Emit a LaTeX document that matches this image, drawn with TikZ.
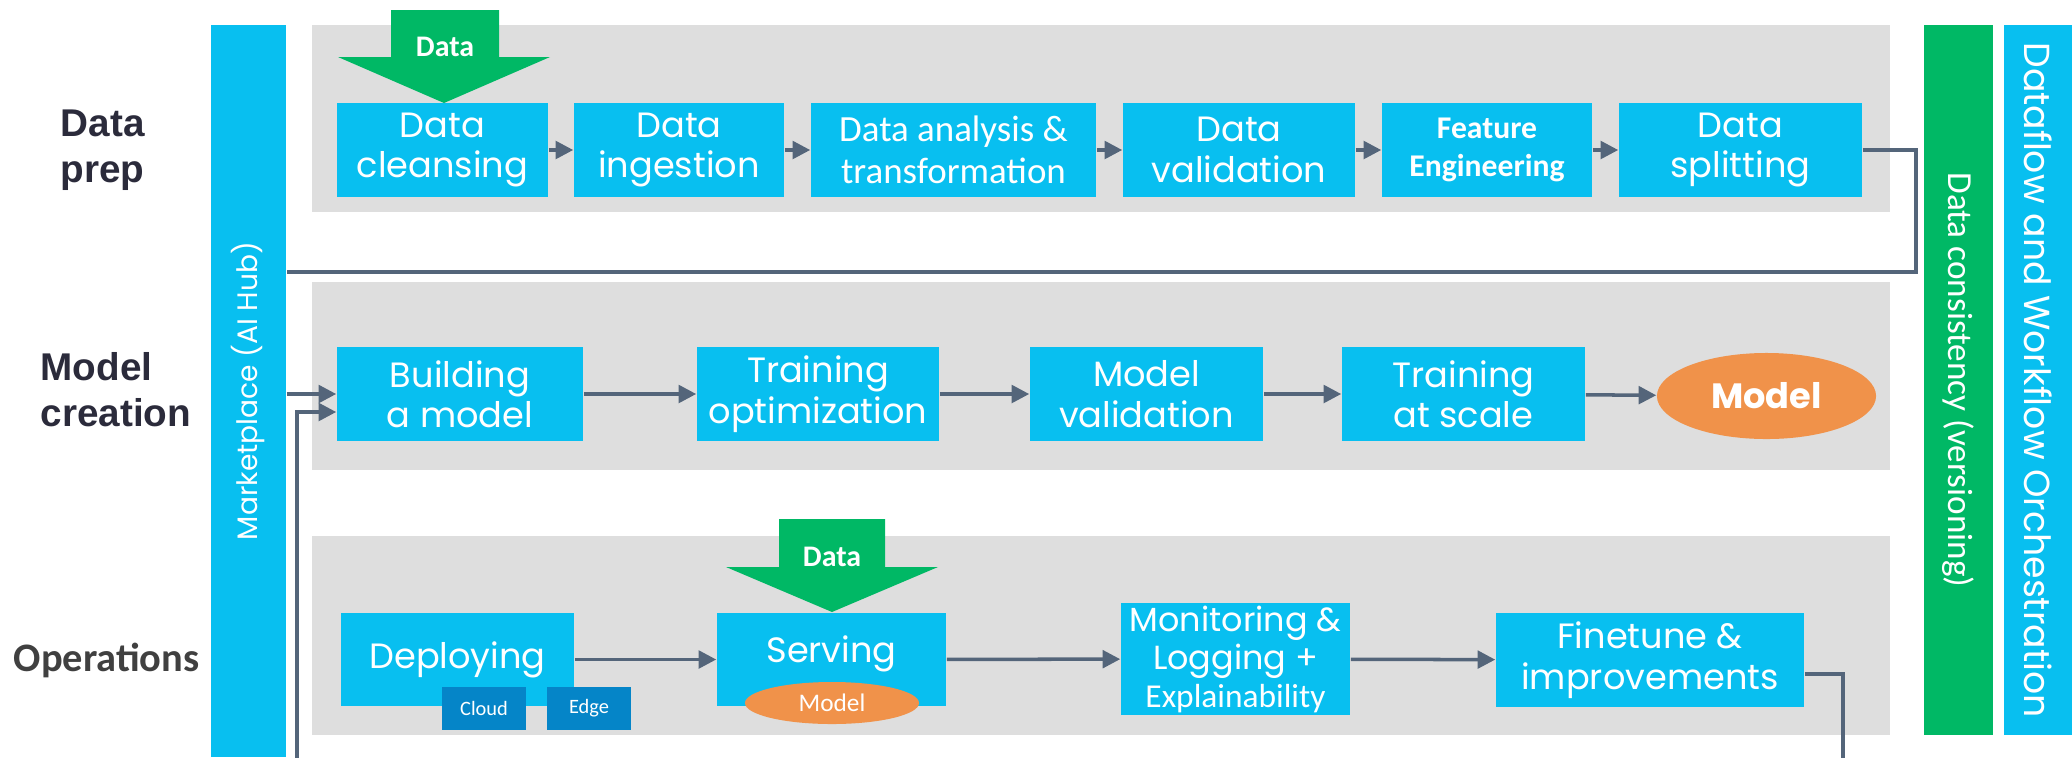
\documentclass[tikz,border=0pt]{standalone}
\usepackage{fontspec}
\setmainfont{Poppins}
\newfontfamily\calfont{Carlito}
\newfontfamily\arialfont{Liberation Sans}
\usetikzlibrary{arrows.meta,calc,shapes.geometric}
\definecolor{boxblue}{RGB}{8,191,240}
\definecolor{panelgray}{RGB}{222,222,222}
\definecolor{datagreen}{RGB}{0,184,101}
\definecolor{modelorange}{RGB}{240,146,74}
\definecolor{deepblue}{RGB}{5,133,200}
\definecolor{arrowgray}{RGB}{84,101,122}
\definecolor{labelink}{RGB}{43,43,59}
\tikzset{
  stepbox/.style={fill=boxblue, text=white, inner sep=0pt, align=center, font=\fontsize{10}{11.5}\selectfont},
  subbox/.style={fill=deepblue, text=white, inner sep=0pt, font=\calfont\fontsize{5.8}{6}\selectfont},
  modelblob/.style={ellipse, fill=modelorange, text=white, inner sep=0pt},
  sidebar/.style={inner sep=0pt, text=white},
  rowlabel/.style={anchor=west, align=left, inner sep=0pt, text=labelink, font=\arialfont\bfseries\fontsize{11}{13}\selectfont},
  flow/.style={draw=arrowgray, line width=1pt, -{Triangle[length=5pt,width=5pt]}},
  loopline/.style={draw=arrowgray, line width=1pt}
}

\begin{document}
\begin{tikzpicture}[x=0.01cm, y=-0.01cm]
		%%%%% START %%%%%
		\useasboundingbox (0,0) rectangle (2072,757);
		
		\fill[panelgray] (312,25) rectangle (1890,212);
		\fill[panelgray] (312,282) rectangle (1890,470);
		\fill[panelgray] (312,536) rectangle (1890,735);
		
		\node[rowlabel] (lprep) at (60,150) {Data\\prep};
		\node[rowlabel] (lcreate) at (40,390) {Model\\creation};
		\node[rowlabel, text=black!75, font=\calfont\bfseries\fontsize{11.5}{13}\selectfont] (lops) at (13,660) {Operations};
		
		\node[sidebar, fill=boxblue, minimum width=0.75cm, minimum height=7.32cm] (market) at (248.5,391) {\rotatebox{90}{\fontsize{8}{9}\selectfont Marketplace (AI Hub)}};
		\node[sidebar, fill=datagreen, minimum width=0.69cm, minimum height=7.10cm] (consist) at (1958.5,380) {\rotatebox{-90}{\calfont\fontsize{10}{11}\selectfont Data consistency (versioning)}};
		\node[sidebar, fill=boxblue, minimum width=0.68cm, minimum height=7.10cm] (orch) at (2038,380) {\rotatebox{-90}{\fontsize{10.3}{11}\selectfont Dataflow and Workflow Orchestration}};
		
		% data prep
		\node[stepbox, minimum width=2.11cm, minimum height=0.94cm] (clean) at (442.5,150) {Data\\cleansing};
		\node[stepbox, minimum width=2.10cm, minimum height=0.94cm] (ingest) at (679,150) {Data\\ingestion};
		\node[stepbox, minimum width=2.85cm, minimum height=0.94cm, font=\calfont\fontsize{10.5}{12}\selectfont] (analysis) at (953.5,150) {Data analysis \&\\transformation};
		\node[stepbox, minimum width=2.32cm, minimum height=0.94cm] (valid) at (1239,150) {Data\\validation};
		\node[stepbox, minimum width=2.10cm, minimum height=0.94cm, font=\calfont\bfseries\fontsize{9}{11}\selectfont] (feature) at (1487,150) {Feature\\Engineering};
		\node[stepbox, minimum width=2.43cm, minimum height=0.94cm] (split) at (1740.5,150) {Data\\splitting};
		
		\fill[datagreen] (391,10) -- (499,10) -- (499,57) -- (550,57) -- (444,103) -- (338,57) -- (391,57) -- cycle;
		\node[text=white, font=\calfont\bfseries\fontsize{8.5}{9}\selectfont] (datain) at (445,47) {Data};
		
		\draw[flow] (clean) -- (ingest);
		\draw[flow] (ingest) -- (analysis);
		\draw[flow] (analysis) -- (valid);
		\draw[flow] (valid) -- (feature);
		\draw[flow] (feature) -- (split);
		
		% model creation
		\node[stepbox, minimum width=2.46cm, minimum height=0.94cm] (build) at (460,394) {Building\\a model};
		\node[stepbox, minimum width=2.42cm, minimum height=0.94cm] (trainopt) at (818,394) {Training\\optimization};
		\node[stepbox, minimum width=2.33cm, minimum height=0.94cm] (modelval) at (1146.5,394) {Model\\validation};
		\node[stepbox, minimum width=2.43cm, minimum height=0.94cm] (scale) at (1463.5,394) {Training\\at scale};
		\node[modelblob, minimum width=2.19cm, minimum height=0.86cm, font=\bfseries\fontsize{10}{11}\selectfont] (modelout) at (1766.5,396) {Model};
		
		\draw[flow] (build) -- (trainopt);
		\draw[flow] (trainopt) -- (modelval);
		\draw[flow] (modelval) -- (scale);
		\draw[flow] (scale) -- (modelout);
		
		% operations
		\node[stepbox, minimum width=2.33cm, minimum height=0.93cm] (deploy) at (457.5,659.5) {Deploying};
		\node[subbox, minimum width=0.84cm, minimum height=0.43cm] (cloud) at (484,708.5) {Cloud};
		\node[subbox, minimum width=0.84cm, minimum height=0.43cm] (edge) at (589,708.5) {Edge};
		\node[stepbox, minimum width=2.29cm, minimum height=0.93cm, text depth=6pt] (serve) at (831.5,659.5) {Serving};
		\node[modelblob, minimum width=1.74cm, minimum height=0.42cm, font=\calfont\fontsize{7.2}{8}\selectfont] (servemodel) at (832,703) {Model};
		\node[stepbox, minimum width=2.29cm, minimum height=1.12cm, font=\fontsize{9.5}{10.8}\selectfont] (monitor) at (1235.5,659) {Monitoring \&\\Logging +\\{\calfont\fontsize{9.5}{10.8}\selectfont Explainability}};
		\node[stepbox, minimum width=3.08cm, minimum height=0.94cm] (fine) at (1650,660) {Finetune \&\\improvements};
		
		\fill[datagreen] (779,519) -- (885,519) -- (885,567) -- (938,567) -- (832,612) -- (726,567) -- (779,567) -- cycle;
		\node[text=white, font=\calfont\bfseries\fontsize{8.5}{9}\selectfont] (dataserve) at (832,557) {Data};
		
		\draw[flow] (deploy) -- (serve);
		\draw[flow] (serve) -- (monitor);
		\draw[flow] (monitor) -- (fine);
		
		% loops back into model creation
		\coordinate (splitturn) at (1916,272);
		\draw[loopline] (split.east) -| (splitturn) -- (market.east |- splitturn);
		\draw[flow] (market.east |- build.west) -- (build.west);
		\coordinate (fineturn) at (1843,770);
		\coordinate (backturn) at (297,770);
		\draw[flow] ($(fine.east)+(0,14)$) -| (fineturn) -- (backturn) |- ($(build.west)+(0,18)$);
		
		%%%%% END %%%%%
\end{tikzpicture}
\end{document}
